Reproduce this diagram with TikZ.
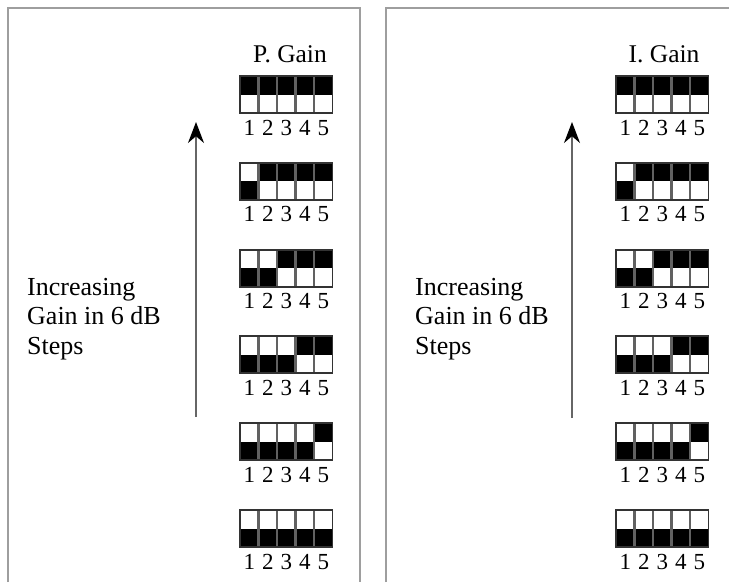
\documentclass[tikz,border=0pt]{standalone}
\usepackage{fontspec}
\setmainfont{Liberation Serif}
\usetikzlibrary{arrows.meta}
\tikzset{
  panelline/.style={draw=black!38, line width=1.5pt},
  divider/.style={draw=black!62, line width=2.6pt},
  swborder/.style={draw=black!80, line width=1.9pt},
  digit/.style={anchor=base, inner sep=0pt, font=\fontsize{23}{23}\selectfont},
  titletext/.style={anchor=base, inner sep=0pt, font=\fontsize{25.5}{25.5}\selectfont},
  sidetext/.style={anchor=base west, inner sep=0pt, align=left, font=\fontsize{26}{29.5}\selectfont},
  uparrow/.style={draw=black!60, line width=1.5pt, -{Stealth[length=21pt,width=16pt,black]}}
}
\def\cw{18.5}
\def\hh{18.5}
% #1 x, #2 y top, #3 number of switches down, #4 name
\newcommand\dipsw[4]{%
  \begin{scope}[shift={(#1,#2)}]
    \foreach \i in {1,...,5}{%
      \pgfmathsetmacro\xa{(\i-1)*\cw}
      \ifnum\i>#3\relax
        \fill[black] (\xa,0) rectangle ++(\cw,\hh);
      \else
        \fill[black] (\xa,\hh) rectangle ++(\cw,\hh);
      \fi
      \node[digit] (#4-\i) at (\xa+\cw/2, 2*\hh+22) {\i};
    }
    \foreach \j in {1,...,4}{%
      \draw[divider] (\j*\cw,0) -- (\j*\cw,2*\hh);
    }
    \draw[swborder] (0,0) rectangle (5*\cw,2*\hh);
  \end{scope}}
\begin{document}
\begin{tikzpicture}[x=1pt,y=-1pt]
  \useasboundingbox (0,0) rectangle (729,582);
  % panels
  \draw[panelline] (8,582) -- (8,8) -- (360,8) -- (360,582);
  \draw[panelline] (386,582) -- (386,8) -- (729,8);
  % left panel
  \node[titletext] (ptitle) at (290,62) {P. Gain};
  \foreach \k in {0,...,5}{%
    \pgfmathsetmacro\yt{76+86.8*\k}
    \dipsw{240}{\yt}{\k}{p\k}
  }
  \coordinate (ptail) at (196,417);
  \coordinate (ptip) at (196,122);
  \draw[uparrow] (ptail) -- (ptip);
  \node[sidetext] (ptext) at (27,354) {Increasing\\Gain in 6 dB\\Steps};
  % right panel
  \node[titletext] (ititle) at (664,62) {I. Gain};
  \foreach \k in {0,...,5}{%
    \pgfmathsetmacro\yt{76+86.8*\k}
    \dipsw{616}{\yt}{\k}{i\k}
  }
  \coordinate (itail) at (572,418);
  \coordinate (itip) at (572,122);
  \draw[uparrow] (itail) -- (itip);
  \node[sidetext] (itext) at (415,354) {Increasing\\Gain in 6 dB\\Steps};
\end{tikzpicture}
\end{document}
